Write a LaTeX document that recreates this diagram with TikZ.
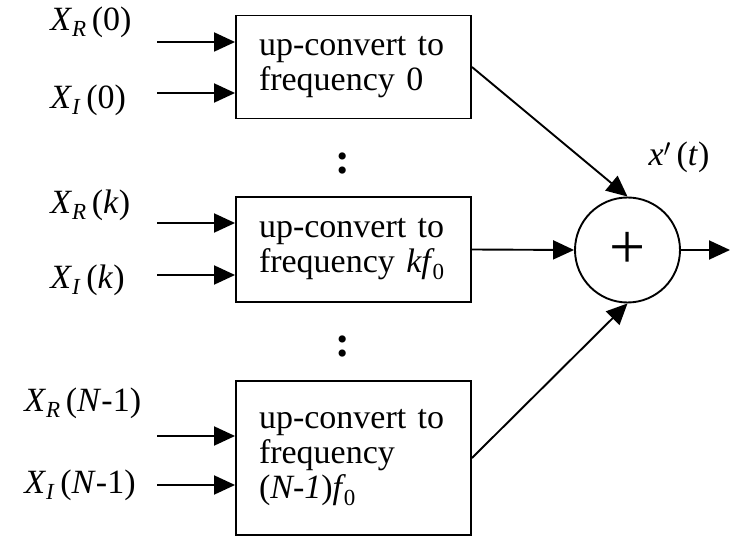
\documentclass[tikz,border=0pt]{standalone}
\usepackage{fontspec}
\setmainfont{Liberation Serif}
\usetikzlibrary{arrows.meta}
\newcommand{\lowidx}[1]{\raisebox{-0.2em}{\fontsize{23}{23}\selectfont #1}}
\begin{document}
\begin{tikzpicture}[x=1pt,y=-1pt,line width=1.9pt,
  every node/.style={font=\fontsize{34}{35}\selectfont},
  block/.style={draw,rectangle,minimum width=235pt,text width=189pt,inner xsep=23pt,inner ysep=0pt,align=left},
  sig/.style={-{Triangle[length=21pt,width=19pt]}}]
\useasboundingbox (0,0) rectangle (731,537);
% up-converters
\node[block,minimum height=103pt] (up0) at (353.5,67) {up-convert to\\frequency 0};
\node[block,minimum height=105pt] (upk) at (353.5,249.5) {up-convert to\\frequency \textit{kf}\kern-0.06em\lowidx{0}};
\node[block,minimum height=154pt] (upN) at (353.5,458) {up-convert to\\frequency\\(\textit{N-1})\textit{f}\kern-0.06em\lowidx{0}};
\node[font=\fontsize{44}{44}\bfseries\selectfont] (dots1) at (343,164) {:};
\node[font=\fontsize{44}{44}\bfseries\selectfont] (dots2) at (343,346) {:};
% inputs
\node[anchor=west] (xr0) at (46,22) {\textit{X}\lowidx{\textit{R}}\,(0)};
\node[anchor=west] (xi0) at (46,100) {\textit{X}\lowidx{\textit{I}}\,(0)};
\node[anchor=west] (xrk) at (46,205) {\textit{X}\lowidx{\textit{R}}\,(\textit{k})};
\node[anchor=west] (xik) at (46,280) {\textit{X}\lowidx{\textit{I}}\,(\textit{k})};
\node[anchor=west] (xrN) at (20,403) {\textit{X}\lowidx{\textit{R}}\,(\textit{N}-1)};
\node[anchor=west] (xiN) at (20,485) {\textit{X}\lowidx{\textit{I}}\,(\textit{N}-1)};
\coordinate (ar0) at (157,42);
\coordinate (ai0) at (157,93);
\coordinate (ark) at (157,223);
\coordinate (aik) at (157,275);
\coordinate (arN) at (157,436);
\coordinate (aiN) at (157,485);
\draw[sig] (ar0) -- (ar0 -| up0.west);
\draw[sig] (ai0) -- (ai0 -| up0.west);
\draw[sig] (ark) -- (ark -| upk.west);
\draw[sig] (aik) -- (aik -| upk.west);
\draw[sig] (arN) -- (arN -| upN.west);
\draw[sig] (aiN) -- (aiN -| upN.west);
% summer
\node[draw,circle,minimum size=105pt,inner sep=0pt,font=\fontsize{64}{64}\selectfont] (sum) at (627.5,250) {+};
\draw[sig] (up0.east) -- (sum.north);
\draw[sig] (upk.east) -- (sum.west);
\draw[sig] (upN.east) -- (sum.south);
\coordinate (out) at (730,250);
\draw[sig] (sum.east) -- (out);
\node (xout) at (679,157) {\textit{x}$'$\,(\textit{t})};
\end{tikzpicture}
\end{document}
